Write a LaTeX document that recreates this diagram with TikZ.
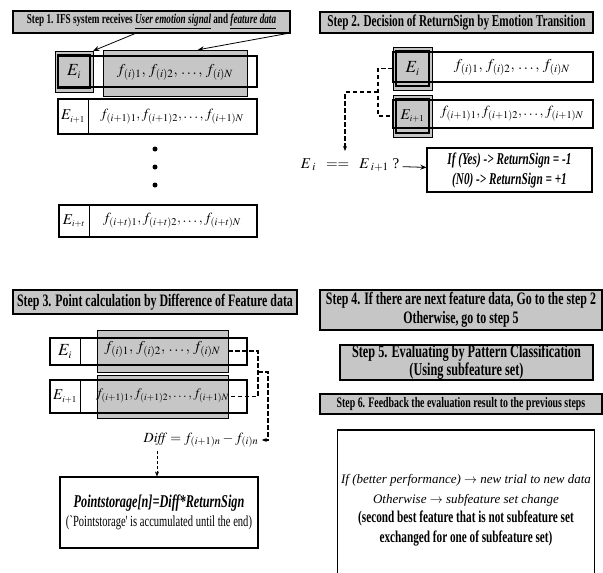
\documentclass[tikz,border=0pt]{standalone}
\usepackage{mathptmx}
\usepackage[no-math]{fontspec}
\setmainfont{Liberation Serif}
\newfontfamily\condfont[FakeStretch=0.68]{Liberation Serif}
\usetikzlibrary{arrows.meta,positioning}

\begin{document}
\begin{tikzpicture}[x=1pt,y=-1pt]
   \tikzstyle{ttl}=[draw,very thick,fill=gray!45,inner sep=0.5pt,align=center]
   \tikzstyle{shade}=[draw,fill=gray!45]
   \tikzstyle{row}=[draw,very thick]
   \tikzstyle{cell}=[draw,thick,inner sep=0pt,font=\fontsize{17}{17}\selectfont]
   \tikzstyle{ftxt}=[font=\fontsize{14}{14}\selectfont]
   \tikzstyle{ar}=[thick,-{Stealth[length=6pt,width=5pt]}]
   \tikzstyle{dsh}=[line width=1.2pt,dash pattern=on 4.5pt off 2.5pt]

   \useasboundingbox (0,0) rectangle (603,573);

   % step 1
   \node (t1) [ttl,minimum width=277pt,minimum height=22pt,font=\condfont\bfseries\fontsize{13.5}{14}\selectfont] at (151.5,22) {Step 1. IFS system receives \underline{\textit{User emotion signal}} and \underline{\textit{feature data}}};
   \node (s1f) [shade,minimum width=144pt,minimum height=46pt] at (175,73) {};
   \node (s1e) [shade,minimum width=38pt,minimum height=41pt] at (74,71.5) {};
   \node (r11) [row,minimum width=199pt,minimum height=31pt] at (157.5,71.5) {};
   \node (e11) [cell,very thick,minimum width=32pt,minimum height=33pt] at (74,71.5) {$E_{\scriptscriptstyle i}$};
   \node (f11) [ftxt,font=\fontsize{15}{15}\selectfont] at (175,72) {$f_{(i)1},\, f_{(i)2},\, \ldots,\, f_{(i)N}$};
   \draw[ar] ([xshift=-16.5pt]t1.south) -- (s1e.north east);
   \draw[ar] ([xshift=-4pt]t1.south east) -- ([xshift=23pt]s1f.north);

   \node (r12) [row,minimum width=199pt,minimum height=35pt] at (157.5,116.5) {};
   \node (e12) [cell,minimum width=30pt,minimum height=35pt,font=\fontsize{15}{15}\selectfont] at (73,116.5) {$E_{\scriptscriptstyle i+1}$};
   \node (f12) [ftxt] at (172,116.5) {$f_{(i+1)1}, f_{(i+1)2}, \ldots, f_{(i+1)N}$};

   \foreach \y in {149,167,185}
      \fill (155,\y) circle (2.5pt);

   \node (r13) [row,minimum width=198pt,minimum height=32pt] at (158,221) {};
   \node (e13) [cell,minimum width=30pt,minimum height=32pt,font=\fontsize{15}{15}\selectfont] at (74,221) {$E_{\scriptscriptstyle i+t}$};
   \node (f13) [ftxt] at (172,221) {$f_{(i+t)1}, f_{(i+t)2}, \ldots, f_{(i+t)N}$};

   % step 2
   \node (t2) [ttl,minimum width=273pt,minimum height=21pt,font=\condfont\bfseries\fontsize{16.5}{17}\selectfont] at (456.5,22.5) {Step 2. Decision of ReturnSign by Emotion Transition};
   \node (s2a) [shade,minimum width=39pt,minimum height=43pt] at (412.5,68.5) {};
   \node (r21) [row,minimum width=200pt,minimum height=30pt] at (493,67) {};
   \node (e21) [cell,very thick,minimum width=33pt,minimum height=35pt] at (412.5,68.5) {$E_{\scriptscriptstyle i}$};
   \node (f21) [ftxt,font=\fontsize{15}{15}\selectfont] at (512,67) {$f_{(i)1},\, f_{(i)2},\, \ldots,\, f_{(i)N}$};

   \node (s2b) [shade,minimum width=39pt,minimum height=42pt] at (412.5,116) {};
   \node (r22) [row,minimum width=200pt,minimum height=28pt] at (493,114) {};
   \node (e22) [cell,very thick,minimum width=33pt,minimum height=34pt,font=\fontsize{15}{15}\selectfont] at (412.5,116) {$E_{\scriptscriptstyle i+1}$};
   \node (f22) [ftxt] at (512,114) {$f_{(i+1)1}, f_{(i+1)2}, \ldots, f_{(i+1)N}$};

   \coordinate (j2) at (378,92);
   \coordinate (q2) at (345,151);
   \draw[dsh] (s2a.west) -| (j2) |- (s2b.west);
   \draw[dsh,-{Stealth[length=5pt,width=4pt]}] (j2) -| (q2);

   \node (eq2) [font=\fontsize{15}{15}\selectfont] at (350,165) {$E_{\;i}\;\;==\;\;E_{\;i+1}$\ ?};
   \node (res2) [row,minimum width=165pt,minimum height=44pt,align=center,font=\condfont\bfseries\itshape\fontsize{16.5}{20}\selectfont] at (509.5,170) {If (Yes) -> ReturnSign = -1\\(N0) -> ReturnSign = +1};
   \draw[ar] (eq2) -- (res2);

   % step 3
   \node (t3) [ttl,minimum width=284pt,minimum height=24pt,font=\condfont\bfseries\fontsize{17.5}{18}\selectfont] at (155,302) {Step 3. Point calculation by Difference of Feature data};
   \node (s3a) [shade,minimum width=131pt,minimum height=42pt] at (162.5,351) {};
   \node (s3b) [shade,minimum width=131pt,minimum height=43pt] at (162.5,396.5) {};
   \node (r31) [row,minimum width=197pt,minimum height=27pt] at (148.5,351.5) {};
   \node (r32) [row,minimum width=197pt,minimum height=33pt] at (148.5,396.5) {};
   \node (e31) [cell,minimum width=30pt,minimum height=27pt] at (65,351.5) {$E_{\scriptscriptstyle i}$};
   \node (b31) [cell,minimum width=17pt,minimum height=27pt] at (88.5,351.5) {};
   \node (e32) [cell,minimum width=30pt,minimum height=33pt,font=\fontsize{15}{15}\selectfont] at (65,396.5) {$E_{\scriptscriptstyle i+1}$};
   \node (b32) [cell,minimum width=17pt,minimum height=33pt] at (88.5,396.5) {};
   \node (f31) [ftxt,font=\fontsize{15}{15}\selectfont] at (162.5,349) {$f_{(i)1},\, f_{(i)2},\, \ldots,\, f_{(i)N}$};
   \node (f32) [ftxt,font=\fontsize{13}{13}\selectfont] at (162.5,396) {$f_{(i+1)1}, f_{(i+1)2}, \ldots, f_{(i+1)N}$};

   \node (diff) [font=\fontsize{14}{14}\selectfont] at (201,440) {$\mathit{Diff} = f_{(i+1)n} - f_{(i)n}$};
   \coordinate (j3) at (258,372);
   \coordinate (k3) at (268,372);
   \draw[dsh] (s3a.east) -| (j3) |- (s3b.east);
   \draw[dsh,-{Stealth[length=5pt,width=4pt]}] (j3) -- (k3) |- (diff.east);

   \node (box3) [row,minimum width=198pt,minimum height=71pt,align=center,font=\condfont\fontsize{15.5}{19}\selectfont] at (159,512.5) {{\bfseries\itshape\fontsize{18}{19}\selectfont Pointstorage[n]=Diff*ReturnSign}\\(`Pointstorage' is accumulated until the end)};
   \draw[densely dashed,-{Stealth[length=5pt,width=4pt]}] ([xshift=-44pt]diff.south) -- ([xshift=-44pt]diff.south |- box3.north);

   % steps 4 to 6
   \node (t4) [ttl,minimum width=282pt,minimum height=40pt,font=\condfont\bfseries\fontsize{17.5}{19}\selectfont] at (461,310) {Step 4. If there are next feature data, Go to the step 2\\Otherwise, go to step 5};
   \node (t5) [ttl,minimum width=253pt,minimum height=35pt,inner sep=0pt,font=\condfont\bfseries\fontsize{18}{18}\selectfont] at (466.5,362.5) {Step 5. Evaluating by Pattern Classification\\(Using subfeature set)};
   \node (t6) [ttl,minimum width=282pt,minimum height=20pt,font=\condfont\bfseries\fontsize{14.5}{15}\selectfont] at (461,404) {Step 6. Feedback the evaluation result to the previous steps};

   \node (box6) [row,minimum width=252pt,minimum height=160pt,align=center,font=\fontsize{13}{19.5}\selectfont] at (466,510) {{\itshape If (better performance) $\rightarrow$ new trial to new data}\\{\itshape Otherwise $\rightarrow$ subfeature set change}\\{\condfont\bfseries\fontsize{16.5}{19.5}\selectfont (second best feature that is not subfeature set}\\{\condfont\bfseries\fontsize{16.5}{19.5}\selectfont exchanged for one of subfeature set)}};
\end{tikzpicture}
\end{document}
